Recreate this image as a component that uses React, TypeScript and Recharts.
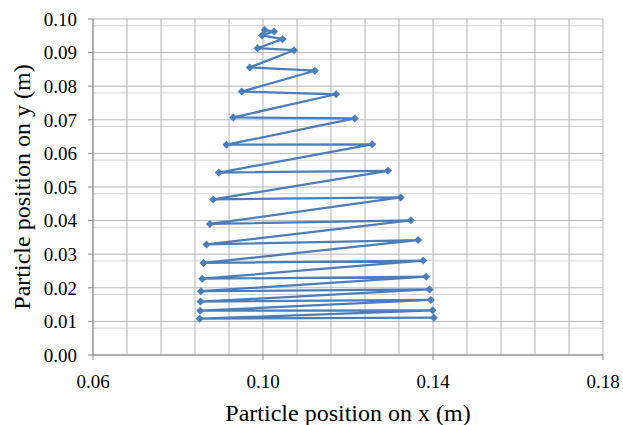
import {
  ScatterChart,
  Scatter,
  XAxis,
  YAxis,
  CartesianGrid,
  Label,
} from 'recharts';

// particle path, read from the top of the cone downwards
const xPos = [
  0.1004, 0.1026, 0.0998, 0.1046, 0.0987, 0.1073, 0.0969, 0.1122, 0.095, 0.1172,
  0.093, 0.1216, 0.0914, 0.1257, 0.0896, 0.1294, 0.0883, 0.1324, 0.0875, 0.1348,
  0.0867, 0.1365, 0.086, 0.1377, 0.0857, 0.1384, 0.0854, 0.1392, 0.0853, 0.1395,
  0.0852, 0.1399, 0.0851, 0.1402,
];
const yPos = [
  0.0967, 0.0963, 0.0951, 0.094, 0.0913, 0.0907, 0.0856, 0.0846, 0.0784, 0.0776,
  0.0707, 0.0704, 0.0626, 0.0627, 0.0543, 0.0548, 0.0463, 0.0469, 0.039, 0.0401,
  0.0329, 0.0342, 0.0274, 0.0281, 0.0227, 0.0233, 0.019, 0.0195, 0.0159, 0.0164,
  0.0132, 0.0133, 0.0108, 0.0111,
];

const xTicks = [0.06, 0.1, 0.14, 0.18];
const yTicks = [0, 0.01, 0.02, 0.03, 0.04, 0.05, 0.06, 0.07, 0.08, 0.09, 0.1];

const LINE_COLOR = '#4a7ebb';
const FONT = 'Liberation Serif';

// gridlines (Excel style: minor every 0.002 on y, every 0.008 on x)
const minorY: number[] = [];
for (let i = 1; i < 50; i++) if (i % 5 !== 0) minorY.push(+(i * 0.002).toFixed(3));
const gridX: number[] = [];
for (let i = 0; i <= 15; i++) gridX.push(+(0.06 + i * 0.008).toFixed(3));

const points = xPos.map((x, i) => ({ x, y: yPos[i] }));

const Diamond = (props: any) => {
  const { cx, cy } = props;
  const r = 4;
  return (
    <polygon
      points={`${cx},${cy - r} ${cx + r},${cy} ${cx},${cy + r} ${cx - r},${cy}`}
      fill={LINE_COLOR}
    />
  );
};

export default function App() {
  return (
    <div
      style={{
        position: 'absolute',
        left: 0,
        top: 0,
        width: 623,
        height: 425,
        background: '#fff',
        fontFamily: FONT,
      }}
    >
      <ScatterChart
        width={623}
        height={425}
        margin={{ top: 19, right: 20, bottom: 0, left: 0 }}
      >
        <CartesianGrid
          horizontalValues={minorY}
          vertical={false}
          stroke="#d4d4d4"
          strokeWidth={1}
        />
        <CartesianGrid
          horizontalValues={yTicks}
          verticalValues={gridX}
          stroke="#b4b4b4"
          strokeWidth={1}
        />
        <XAxis
          type="number"
          dataKey="x"
          domain={[0.06, 0.18]}
          ticks={xTicks}
          tickFormatter={(v: number) => v.toFixed(2)}
          height={70}
          stroke="#868686"
          tickSize={5}
          tickMargin={15}
          tick={{ fill: '#000', fontSize: 19, fontFamily: FONT }}
          allowDataOverflow
        >
          <Label
            value="Particle position on x (m)"
            position="insideBottom"
            offset={4}
            style={{ fill: '#000', fontSize: 24, fontFamily: FONT }}
          />
        </XAxis>
        <YAxis
          type="number"
          dataKey="y"
          domain={[0, 0.1]}
          ticks={yTicks}
          tickFormatter={(v: number) => v.toFixed(2)}
          width={93}
          stroke="#868686"
          tickSize={5}
          tickMargin={11}
          tick={{ fill: '#000', fontSize: 19, fontFamily: FONT }}
          allowDataOverflow
        >
          <Label
            content={({ viewBox }: any) => {
              const cx = 22;
              const cy = viewBox.y + viewBox.height / 2;
              return (
                <text
                  x={cx}
                  y={cy}
                  transform={`rotate(-90 ${cx} ${cy})`}
                  textAnchor="middle"
                  dominantBaseline="central"
                  fontFamily={FONT}
                  fontSize={24}
                  fill="#000"
                >
                  Particle position on y (m)
                </text>
              );
            }}
          />
        </YAxis>
        <Scatter
          data={points}
          fill={LINE_COLOR}
          shape={<Diamond />}
          line={{ stroke: LINE_COLOR, strokeWidth: 2.25 }}
          isAnimationActive={false}
        />
      </ScatterChart>
    </div>
  );
}
